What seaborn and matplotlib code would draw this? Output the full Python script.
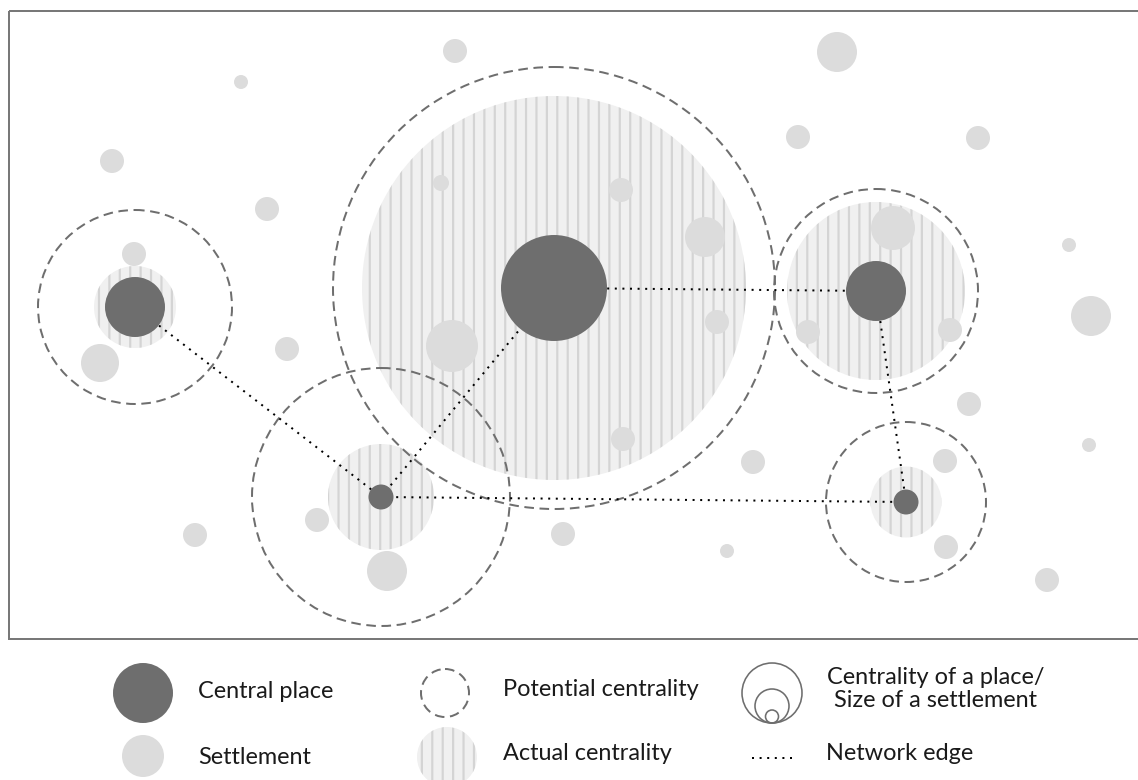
import pandas as pd
import matplotlib.pyplot as plt
import seaborn as sns
from matplotlib.patches import Circle, Rectangle

# central places: centre, size of the place, actual and potential centrality radius
cp_x = [135, 554, 876, 381, 906]
cp_y = [307, 288, 291, 497, 502]
cp_r = [30, 53, 30, 12.5, 12.5]
actual_r = [41, 192, 89, 53, 35.5]
potential_r = [97, 221, 102, 129, 80]

# network edges between central places (index pairs)
edge_from = [0, 3, 1, 2, 3]
edge_to = [3, 1, 2, 4, 4]

# settlements
st_x = [455, 837, 241, 112, 798, 978, 267, 441, 621, 705, 893, 134, 1069, 1091, 452, 717,
        808, 950, 287, 100, 969, 623, 753, 945, 1089, 317, 195, 563, 387, 946, 727, 1047]
st_y = [51, 52, 82, 161, 137, 138, 209, 183, 190, 237, 228, 254, 245, 316, 346, 322,
        332, 330, 349, 363, 404, 439, 462, 461, 445, 520, 535, 534, 571, 547, 551, 580]
st_r = [12, 20, 7, 12, 12, 12, 12, 8, 12, 20, 22, 12, 7, 20, 26, 12,
        12, 12, 12, 19, 12, 12, 12, 12, 7, 12, 12, 12, 20, 12, 7, 12]

legend_labels = ["Central place", "Settlement", "Potential centrality", "Actual centrality",
                 "Centrality of a place/\nSize of a settlement", "Network edge"]

W, H, DPI = 1138, 780, 125
DARK = "#6e6e6e"
LIGHT = "#dcdcdc"
HATCH_BG = "#f0f0f0"
HATCH_LN = "#d4d4d4"
px = 72 / DPI  # one pixel in points

sns.set_theme(style="white")
plt.rcParams["font.family"] = ["Lato", "DejaVu Sans"]
plt.rcParams["hatch.linewidth"] = 2.2 * px

fig = plt.figure(figsize=(W / DPI, H / DPI), dpi=DPI)
ax = fig.add_axes([0, 0, 1, 1])

dash = (0, (4.8, 2.8))

def hatched(x, y, r):
    ax.add_patch(Circle((x, y), r, facecolor=HATCH_BG, edgecolor=HATCH_LN,
                        hatch="||", linewidth=0, zorder=1))

# frame
ax.add_patch(Rectangle((9, 11), W, 628, fill=False, edgecolor="#787878",
                       linewidth=2 * px, zorder=6))

for x, y, r in zip(cp_x, cp_y, actual_r):
    hatched(x, y, r)

settle = pd.DataFrame({"x": st_x, "y": st_y, "r": st_r})
sns.scatterplot(data=settle, x="x", y="y", s=(2 * settle["r"] * px) ** 2,
                color=LIGHT, linewidth=0, ax=ax, zorder=2, legend=False)

for x, y, r in zip(cp_x, cp_y, potential_r):
    ax.add_patch(Circle((x, y), r, fill=False, edgecolor=DARK, linewidth=2 * px,
                        linestyle=dash, zorder=3))

edges = pd.DataFrame({
    "edge": [i for i in range(len(edge_from)) for _ in range(2)],
    "x": [cp_x[k] for a, b in zip(edge_from, edge_to) for k in (a, b)],
    "y": [cp_y[k] for a, b in zip(edge_from, edge_to) for k in (a, b)],
})
sns.lineplot(data=edges, x="x", y="y", units="edge", estimator=None, sort=False,
             color="black", linewidth=2 * px, linestyle=(0, (1, 2.8)), ax=ax, zorder=4)

for x, y, r in zip(cp_x, cp_y, cp_r):
    ax.add_patch(Circle((x, y), r, facecolor=DARK, linewidth=0, zorder=5))

ax.set_xlim(0, W)
ax.set_ylim(H, 0)
ax.set_aspect("equal")
ax.axis("off")

# legend
ax.add_patch(Circle((143, 693), 30, facecolor=DARK, linewidth=0))
ax.add_patch(Circle((143, 756), 21, facecolor=LIGHT, linewidth=0))
ax.add_patch(Circle((445, 693), 24, fill=False, edgecolor=DARK, linewidth=2 * px, linestyle=dash))
hatched(447, 757, 30)
for cy, r in [(693, 30), (706, 17), (716.5, 6.5)]:
    ax.add_patch(Circle((772, cy), r, fill=False, edgecolor=DARK, linewidth=1.6 * px))
ax.plot([752, 797], [758, 758], color="black", linewidth=2 * px, linestyle=(0, (1, 2.8)))

fs = 23.5 * px
tc = "#1a1a1a"
ax.text(198, 692, legend_labels[0], fontsize=fs, color=tc, va="center")
ax.text(198, 757, legend_labels[1], fontsize=fs, color=tc, va="center")
ax.text(503, 690, legend_labels[2], fontsize=fs, color=tc, va="center")
ax.text(503, 753, legend_labels[3], fontsize=fs, color=tc, va="center")
ax.text(936, 689, legend_labels[4], fontsize=fs, color=tc, va="center", ha="center",
        linespacing=1.15)
ax.text(826, 753, legend_labels[5], fontsize=fs, color=tc, va="center")

fig.savefig("out.png", dpi=DPI)
